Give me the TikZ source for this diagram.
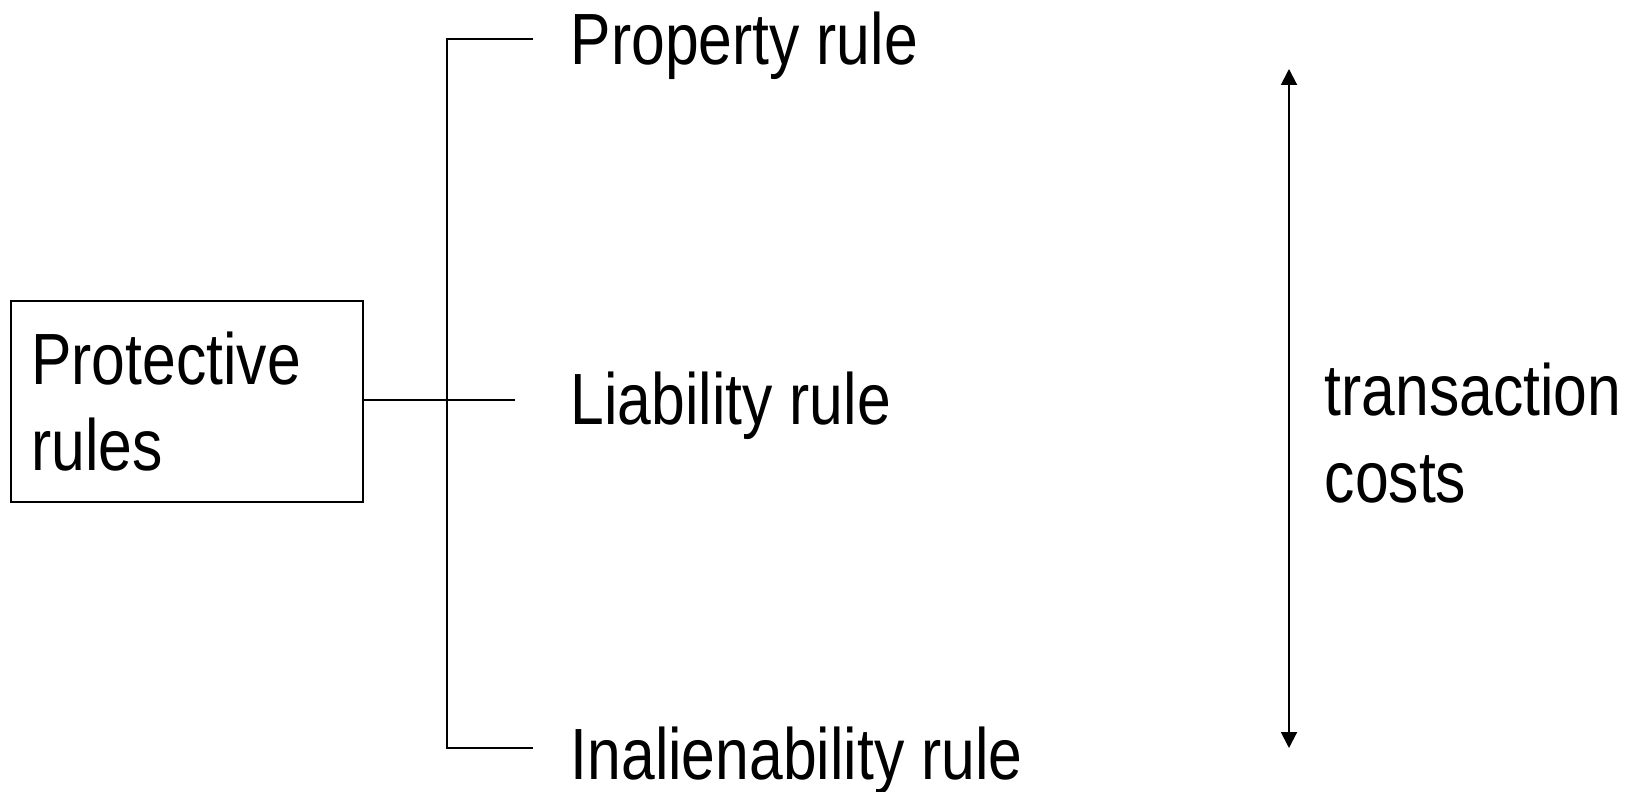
\documentclass[tikz,border=0pt]{standalone}
\usepackage{fontspec}
\setmainfont[FakeStretch=0.835]{Liberation Sans}
\usepackage{tikz}
\usetikzlibrary{arrows.meta, positioning}

\begin{document}
\begin{tikzpicture}[x=0.5pt, y=-0.5pt, thick]
        % Define block styles
        \tikzstyle{rulebox} = [rectangle, draw, line width=0.9pt, minimum width=176.25pt, minimum height=100.5pt, inner xsep=10.25pt, text width=155.75pt, align=left, font=\fontsize{36.3}{43.3}\selectfont]
        \tikzstyle{rulename} = [inner sep=0pt, anchor=base west, font=\fontsize{36.3}{43.3}\selectfont]
        \tikzstyle{line} = [draw, line width=0.8pt]
        \tikzstyle{cost} = [draw, line width=1pt, {Triangle[width=8pt, length=8pt]}-{Triangle[width=8pt, length=8pt]}]

        \useasboundingbox (0,0) rectangle (1639,792);

        % Define nodes
        \node [rulebox] (prot) at (187,401.5) {Protective\\rules};
        \node [rulename] (prop) at (570,64.5) {Property rule};
        \node [rulename] (liab) at (570,424) {Liability rule};
        \node [rulename] (inal) at (570,779) {Inalienability rule};
        \node [rulename, align=left, anchor=west] (trans) at (1324,433) {transaction\\costs};

        \coordinate (jtop) at (447,39);
        \coordinate (jbot) at (447,748);
        \coordinate (ptip) at (533,39);
        \coordinate (ltip) at (515,400);
        \coordinate (itip) at (533,748);
        \coordinate (ctop) at (1289,69);
        \coordinate (cbot) at (1289,748);

        % Connect nodes with paths
        \path [line] (ptip) -- (jtop) -- (jbot) -- (itip);
        \path [line] (prot.east |- ltip) -- (ltip);
        \path [cost] (ctop) -- (cbot);

    \end{tikzpicture}
\end{document}
